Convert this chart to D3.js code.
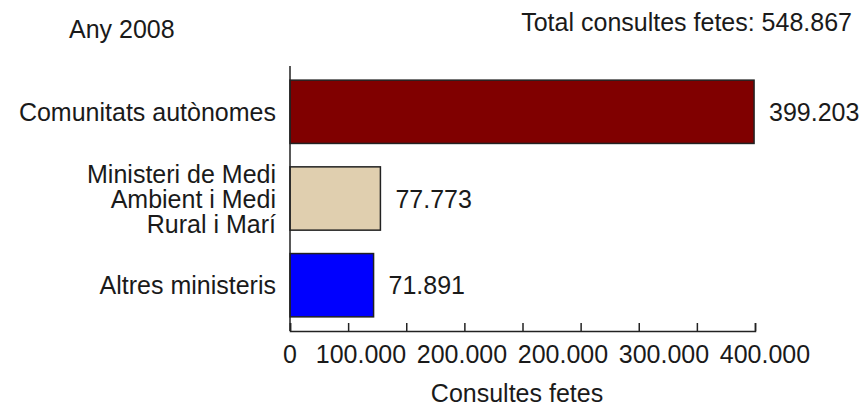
<!DOCTYPE html>
<html>
<head>
<meta charset="utf-8">
<script src="https://cdn.jsdelivr.net/npm/d3@7"></script>
<style>
  body { margin: 0; background: #fff; }
  text { font-family: "Liberation Sans", Arial, sans-serif; fill: #1a1a1a; }
</style>
</head>
<body>
<div id="chart"></div>
<script>
// dades
var categories = ['Comunitats autònomes', 'Ministeri de Medi\nAmbient i Medi\nRural i Marí', 'Altres ministeris'];
var values = [399203, 77773, 71891];
var colors = ['#800000', '#E0CFAF', '#0000FF'];
var tickLabels = ['0', '100.000', '200.000', '200.000', '300.000', '400.000'];
var yearLabel = 'Any 2008';
var totalLabel = 'Total consultes fetes: 548.867';
var axisTitle = 'Consultes fetes';

var WIDTH = 865, HEIGHT = 407;
var LINE_H = 25;
var fmt = function (v) { return d3.format(',')(v).replace(/,/g, '.'); };

var svg = d3.select('#chart').append('svg')
    .attr('width', WIDTH)
    .attr('height', HEIGHT);

var x = d3.scaleLinear().domain([0, 400000]).range([290, 755]);
var y = d3.scaleBand().domain(categories).range([68, 329])
    .paddingInner(0.27).paddingOuter(0.14);

// barres
svg.append('g').selectAll('rect')
    .data(values)
    .enter()
    .append('rect')
    .attr('x', x(0))
    .attr('y', (d, i) => y(categories[i]))
    .attr('width', d => x(d) - x(0))
    .attr('height', y.bandwidth())
    .attr('fill', (d, i) => colors[i])
    .attr('stroke', '#222')
    .attr('stroke-width', 1.5);

// valors
svg.append('g').selectAll('text')
    .data(values)
    .enter()
    .append('text')
    .attr('x', d => x(d) + 15)
    .attr('y', (d, i) => y(categories[i]) + y.bandwidth() / 2 + 9)
    .attr('font-size', 25)
    .text(d => fmt(d));

// etiquetes categories
var cat = svg.append('g').selectAll('text')
    .data(categories)
    .enter()
    .append('text')
    .attr('text-anchor', 'end')
    .attr('font-size', 25)
    .attr('y', d => {
        var n = d.split('\n').length;
        return y(d) + y.bandwidth() / 2 + 9 - (n - 1) * LINE_H / 2;
    });
cat.selectAll('tspan')
    .data(d => d.split('\n'))
    .enter()
    .append('tspan')
    .attr('x', 276)
    .attr('dy', (d, i) => i ? LINE_H : 0)
    .text(d => d);

// eixos
var axisY = 331;
svg.append('line')
    .attr('x1', x(0)).attr('x2', x(0))
    .attr('y1', 66).attr('y2', axisY)
    .attr('stroke', '#222').attr('stroke-width', 1.5);

var xAxis = d3.axisBottom(x).tickValues(d3.range(0, 400001, 50000))
    .tickSize(-8).tickFormat('');
var gx = svg.append('g')
    .attr('transform', 'translate(0,' + axisY + ')')
    .call(xAxis);
gx.select('.domain').attr('stroke', '#222').attr('stroke-width', 1.5);
gx.selectAll('.tick line').attr('stroke', '#222').attr('stroke-width', 1.5);

// etiquetes de l'eix (no alineades amb les marques a l'original)
var labelX = d3.scaleLinear().domain([1, tickLabels.length - 1]).range([361, 765]);
svg.append('g').selectAll('text')
    .data(tickLabels)
    .enter()
    .append('text')
    .attr('text-anchor', 'middle')
    .attr('font-size', 25)
    .attr('x', (d, i) => i ? labelX(i) : x(0))
    .attr('y', 363)
    .text(d => d);

svg.append('text')
    .attr('x', 517).attr('y', 402)
    .attr('text-anchor', 'middle')
    .attr('font-size', 25)
    .text(axisTitle);

svg.append('text')
    .attr('x', 69).attr('y', 38)
    .attr('font-size', 25)
    .text(yearLabel);

svg.append('text')
    .attr('x', 852).attr('y', 31)
    .attr('text-anchor', 'end')
    .attr('font-size', 25)
    .text(totalLabel);
</script>
</body>
</html>
